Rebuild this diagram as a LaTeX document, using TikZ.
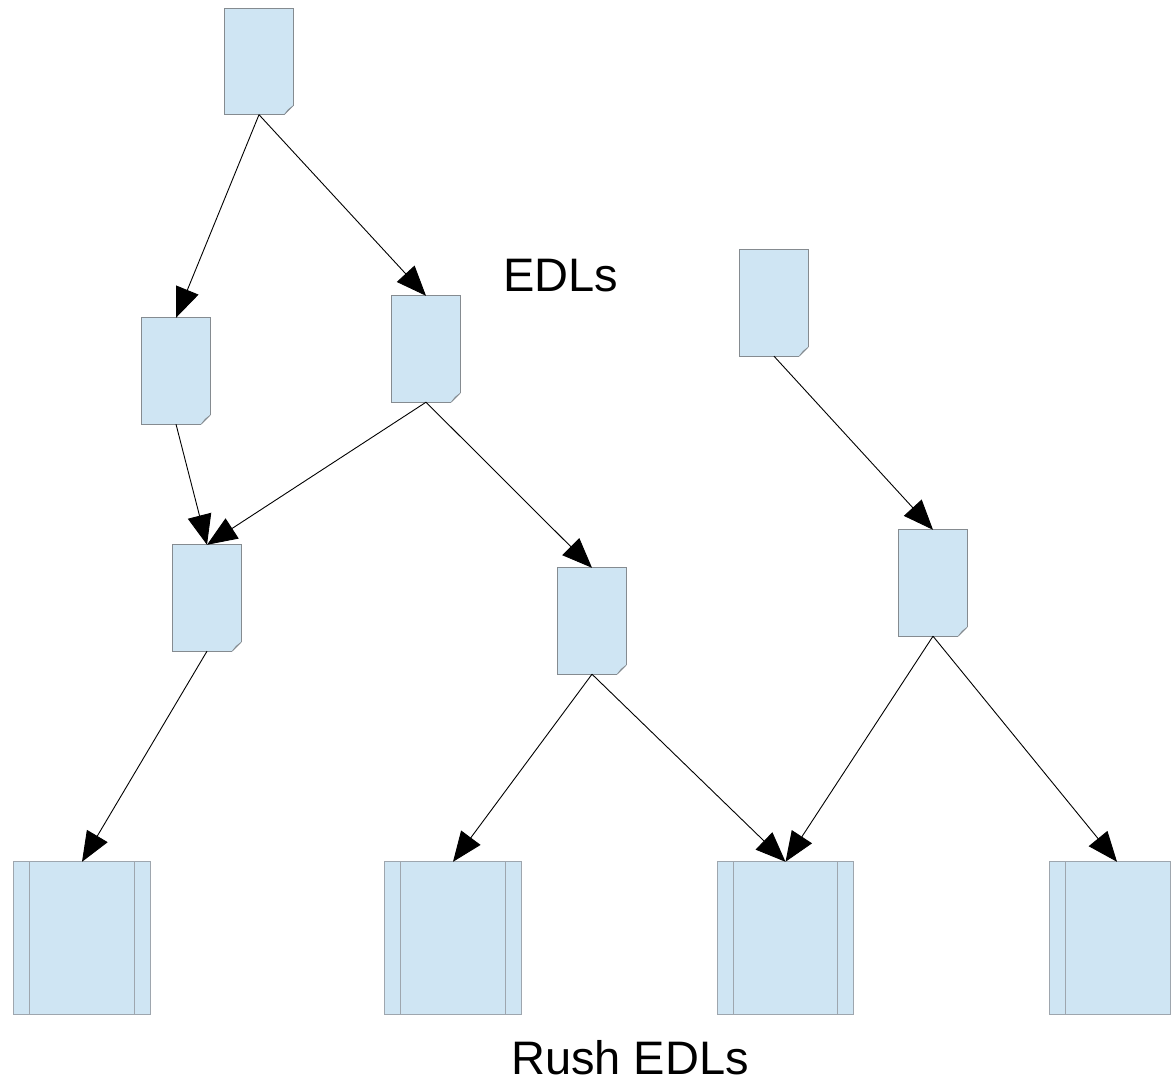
\documentclass[tikz,border=0pt]{standalone}
\usepackage{fontspec}
\setmainfont{Liberation Sans}
\usetikzlibrary{arrows.meta}
\definecolor{paper}{HTML}{CFE5F3}
\definecolor{docedge}{HTML}{858B90}
\definecolor{rushedge}{HTML}{9EA6AE}
\definecolor{foldfill}{HTML}{A9BACB}
\tikzset{
  docnode/.style={rectangle, minimum width=68pt, minimum height=106pt, inner sep=0pt, draw=none},
  rushnode/.style={rectangle, minimum width=136pt, minimum height=152pt, inner sep=0pt, draw=none},
  flow/.style={line width=0.9pt, -{Triangle[length=30pt,width=24pt]}},
  caption/.style={font=\fontsize{47}{52}\selectfont, inner sep=0pt}
}
% page sheet with a folded bottom-right corner, drawn around a named node
\newcommand{\sheet}[1]{%
  \fill[paper] (#1.north west) -- (#1.north east) -- ([yshift=9pt]#1.south east)
    -- ([xshift=-9pt]#1.south east) -- (#1.south west) -- cycle;
  \draw[docedge, line width=1pt] ([yshift=9pt]#1.south east) -- (#1.north east)
    -- (#1.north west) -- (#1.south west) -- ([xshift=-9pt]#1.south east);
  \filldraw[fill=foldfill, draw=docedge, line width=0.6pt] ([xshift=-9pt]#1.south east)
    -- ([yshift=9pt]#1.south east) -- ([xshift=-5pt,yshift=5pt]#1.south east) -- cycle;
}
% tape reel box with two inner bands
\newcommand{\reel}[2]{%
  \filldraw[fill=paper, draw=rushedge, line width=1.2pt] (#1.north west) rectangle (#1.south east);
  \draw[rushedge, line width=1.2pt] ([xshift=16pt]#1.north west) -- ([xshift=16pt]#1.south west);
  \ifnum#2=1
  \draw[rushedge, line width=1.2pt] ([xshift=-16pt]#1.north east) -- ([xshift=-16pt]#1.south east);
  \fi
}
\begin{document}
\begin{tikzpicture}[x=1pt, y=-1pt]
\useasboundingbox (0,0) rectangle (1171,1083);

% EDL sheets
\node[docnode] (d1) at (259,61.5) {};
\node[docnode] (d2) at (176,371) {};
\node[docnode] (d3) at (426,349) {};
\node[docnode] (d4) at (774,303) {};
\node[docnode] (d5) at (207,598) {};
\node[docnode] (d6) at (592,621) {};
\node[docnode] (d7) at (933,583) {};

% rush reels
\node[rushnode] (r1) at (82,938) {};
\node[rushnode] (r2) at (453,938) {};
\node[rushnode] (r3) at (785.5,938) {};
\node[rectangle, minimum width=120pt, minimum height=152pt, inner sep=0pt] (r4) at (1110,938) {};

\sheet{d1}\sheet{d2}\sheet{d3}\sheet{d4}\sheet{d5}\sheet{d6}\sheet{d7}
\reel{r1}{1}\reel{r2}{1}\reel{r3}{1}\reel{r4}{0}

% captions
\node[caption] (edls) at (561,276) {EDLs};
\node[caption] (rush) at (630,1058) {Rush EDLs};

% derivation arrows
\draw[flow] (d1.south) -- (d2.north);
\draw[flow] (d1.south) -- (d3.north);
\draw[flow] (d2.south) -- (d5.north);
\draw[flow] (d3.south) -- (d5.north);
\draw[flow] (d3.south) -- (d6.north);
\draw[flow] (d4.south) -- (d7.north);
\draw[flow] (d5.south) -- (r1.north);
\draw[flow] (d6.south) -- (r2.north);
\draw[flow] (d6.south) -- (r3.north);
\draw[flow] (d7.south) -- (r3.north);
\draw[flow] (d7.south) -- ([xshift=7pt]r4.north);
\end{tikzpicture}
\end{document}
